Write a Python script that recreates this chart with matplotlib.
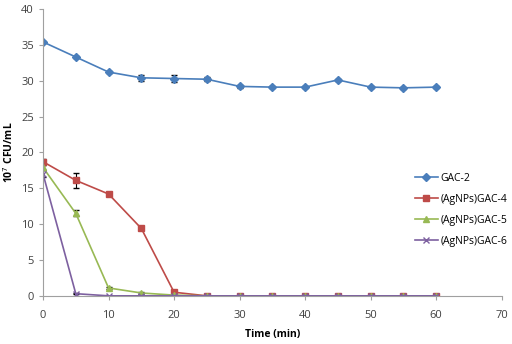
import matplotlib
matplotlib.use("Agg")
import matplotlib.pyplot as plt

plt.rcParams['font.family'] = ['Open Sans', 'DejaVu Sans']

time_min = [0, 5, 10, 15, 20, 25, 30, 35, 40, 45, 50, 55, 60]

gac2 = [35.4, 33.3, 31.2, 30.4, 30.3, 30.2, 29.2, 29.1, 29.1, 30.1, 29.1, 29.0, 29.1]
gac2_err = [0.2, 0.2, 0.2, 0.4, 0.5, 0.3, 0.2, 0.1, 0.1, 0.1, 0.1, 0.1, 0.1]

gac4 = [18.7, 16.1, 14.2, 9.4, 0.5, 0, 0, 0, 0, 0, 0, 0, 0]
gac4_err = [0.4, 1.0, 0.1, 0.1, 0.1, 0, 0, 0, 0, 0, 0, 0, 0]

gac5 = [17.9, 11.5, 1.1, 0.4, 0.1, 0, 0, 0, 0, 0, 0, 0, 0]
gac5_err = [0.3, 0.4, 0.1, 0.1, 0, 0, 0, 0, 0, 0, 0, 0, 0]

gac6 = [17.0, 0.3, 0, 0, 0, 0, 0, 0, 0, 0, 0, 0, 0]
gac6_err = [0.5, 0.1, 0, 0, 0, 0, 0, 0, 0, 0, 0, 0, 0]

labels = ["GAC-2", "(AgNPs)GAC-4", "(AgNPs)GAC-5", "(AgNPs)GAC-6"]
colors = ["#4a7ebb", "#be4b48", "#98b954", "#7d60a0"]
markers = ["D", "s", "^", "x"]
msizes = [4, 5, 5, 5]

fig = plt.figure(figsize=(5.12, 3.44), dpi=100)
ax = fig.add_axes([0.084, 0.14, 0.896, 0.834])

series = [(gac2, gac2_err), (gac4, gac4_err), (gac5, gac5_err), (gac6, gac6_err)]
for (vals, err), lab, c, m, ms in zip(series, labels, colors, markers, msizes):
    ax.errorbar(time_min, vals, yerr=err, color=c, marker=m, markersize=ms,
                linewidth=1.2, label=lab, ecolor='black', elinewidth=0.8,
                capsize=2, capthick=0.8, markeredgewidth=1.0)

ax.set_xlim(0, 70)
ax.set_ylim(0, 40)
ax.set_xticks(range(0, 71, 10))
ax.set_yticks(range(0, 41, 5))

for s in ['top', 'right']:
    ax.spines[s].set_visible(False)
for s in ['left', 'bottom']:
    ax.spines[s].set_color('#a0a0a0')
ax.tick_params(axis='both', colors='#a0a0a0', labelcolor='#404040',
               labelsize=8, length=3, direction='out')
ax.tick_params(axis='x', pad=7)

ax.set_xlabel("Time (min)", fontsize=7.5, fontweight='bold', labelpad=6)
ax.set_ylabel("10$^7$ CFU/mL", fontsize=7.5, fontweight='bold', labelpad=4)

handles, labs = ax.get_legend_handles_labels()
handles = [h[0] for h in handles]
ax.legend(handles, labs, loc='center left', bbox_to_anchor=(0.79, 0.30),
          frameon=False, fontsize=7.5, handlelength=2.2, labelspacing=0.95,
          handletextpad=0.3)

fig.savefig("out.png", dpi=100)
